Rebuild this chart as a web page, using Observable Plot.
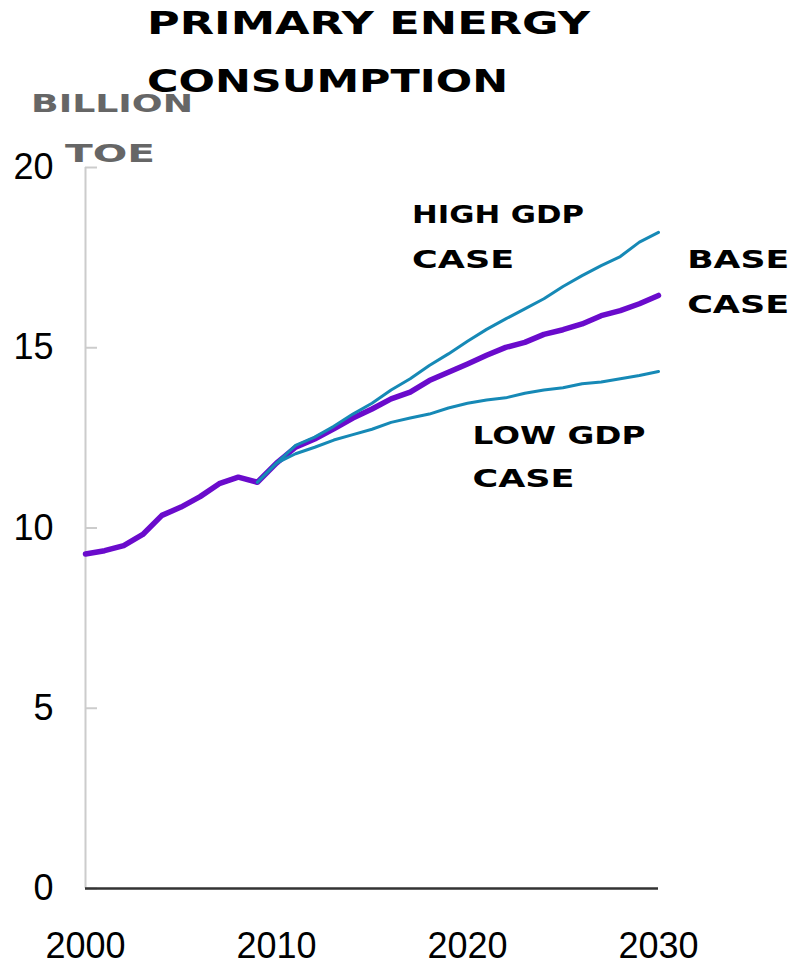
<!DOCTYPE html>
<html><head><meta charset="utf-8">
<script src="https://cdn.jsdelivr.net/npm/d3@7"></script>
<script src="https://cdn.jsdelivr.net/npm/@observablehq/plot@0.6"></script>
<style>
body{margin:0;background:#fff}
#wrap{position:relative;width:796px;height:966px}
#wrap svg.overlay{position:absolute;left:0;top:0;pointer-events:none}
</style>
</head><body><div id="wrap"></div>
<script>
// ---- data ----
const baseYears = d3.range(2000, 2031);
const baseCase = [9.28, 9.37, 9.51, 9.82, 10.35, 10.58, 10.87, 11.23, 11.41, 11.27,
  11.80, 12.24, 12.47, 12.75, 13.05, 13.30, 13.58, 13.77, 14.09, 14.32,
  14.55, 14.79, 15.01, 15.15, 15.37, 15.50, 15.66, 15.89, 16.03, 16.22, 16.45];
const scenarioYears = d3.range(2009, 2031);
const highGdp = [11.27, 11.80, 12.29, 12.52, 12.82, 13.16, 13.46, 13.83, 14.14, 14.51, 14.83,
  15.18, 15.51, 15.80, 16.08, 16.36, 16.70, 17.00, 17.28, 17.53, 17.93, 18.20];
const lowGdp = [11.27, 11.80, 12.06, 12.24, 12.44, 12.59, 12.74, 12.93, 13.05, 13.16, 13.33,
  13.46, 13.55, 13.61, 13.74, 13.83, 13.89, 14.00, 14.05, 14.14, 14.23, 14.34];
const xTicks = [2000, 2010, 2020, 2030];
const yTicks = [0, 5, 10, 15, 20];
const labelText = ["HIGH GDP", "CASE", "BASE", "CASE", "LOW GDP", "CASE"];
const labelYear = [2017.1, 2017.1, 2031.5, 2031.5, 2020.26, 2020.26];
const labelValue = [18.47, 17.22, 17.22, 15.96, 12.33, 11.15];
const titleLines = ["PRIMARY ENERGY", "CONSUMPTION"];
const unitLines = ["BILLION", "TOE"];

// ---- tables ----
const base = baseYears.map((year, i) => ({year, value: baseCase[i]}));
const high = scenarioYears.map((year, i) => ({year, value: highGdp[i]}));
const low = scenarioYears.map((year, i) => ({year, value: lowGdp[i]}));
const labels = labelText.map((text, i) => ({text, year: labelYear[i], value: labelValue[i]}));

const techFont = "'DejaVu Sans', sans-serif";
const purple = "#6a0bcc";
const teal = "#1689b6";

const chart = Plot.plot({
  width: 796,
  height: 966,
  marginLeft: 85,
  marginRight: 138,
  marginTop: 167,
  marginBottom: 78,
  style: {fontFamily: "'Liberation Sans', Arial, sans-serif", fontSize: "36px", background: "white", overflow: "visible"},
  x: {domain: [2000, 2030]},
  y: {domain: [0, 20]},
  marks: [
    Plot.ruleX([2000], {stroke: "#cccccc", strokeWidth: 2}),
    Plot.axisY({ticks: yTicks, tickSize: 12, dx: 12, fill: "none", stroke: "#cccccc", strokeWidth: 2, label: null}),
    Plot.axisY({ticks: yTicks, tickSize: 0, tickPadding: 32, fontSize: 36, label: null, tickFormat: d => String(d)}),
    Plot.axisX({ticks: xTicks, tickSize: 0, tickPadding: 44, fontSize: 36, label: null, tickFormat: d => String(d)}),
    Plot.ruleY([0], {stroke: "#333333", strokeWidth: 2.5}),
    Plot.line(base, {x: "year", y: "value", stroke: purple, strokeWidth: 5.5, strokeLinejoin: "round"}),
    Plot.line(high, {x: "year", y: "value", stroke: teal, strokeWidth: 3, strokeLinejoin: "round"}),
    Plot.line(low, {x: "year", y: "value", stroke: teal, strokeWidth: 3, strokeLinejoin: "round"}),
    Plot.text(labels, {x: "year", y: "value", text: "text", textAnchor: "start", lineAnchor: "bottom",
      fontFamily: techFont, fontWeight: "bold", fontSize: 25, fill: "black"})
  ]
});
document.getElementById("wrap").appendChild(chart);

// stretch the blocky label lettering to the widths of the original
const labelWidths = {"HIGH GDP": 172, "LOW GDP": 173, "CASE": 102, "BASE": 102};
d3.select(chart).selectAll("text").each(function () {
  const w = labelWidths[this.textContent];
  if (w) {
    this.setAttribute("textLength", w);
    this.setAttribute("lengthAdjust", "spacingAndGlyphs");
  }
});

// title and unit label above the frame
const overlay = d3.select("#wrap").append("svg").attr("class", "overlay")
  .attr("width", 796).attr("height", 966);
const head = [
  {text: titleLines[0], x: 147, y: 33.5, w: 443, size: 32, fill: "#000"},
  {text: titleLines[1], x: 147, y: 91.7, w: 361, size: 32, fill: "#000"},
  {text: unitLines[0], x: 31, y: 111.7, w: 162, size: 24, fill: "#666"},
  {text: unitLines[1], x: 65, y: 162.3, w: 90, size: 24, fill: "#666"}
];
overlay.selectAll("text").data(head).join("text")
  .attr("x", d => d.x).attr("y", d => d.y)
  .attr("font-family", techFont).attr("font-weight", "bold")
  .attr("font-size", d => d.size).attr("fill", d => d.fill)
  .attr("textLength", d => d.w).attr("lengthAdjust", "spacingAndGlyphs")
  .text(d => d.text);
</script>
</body></html>
